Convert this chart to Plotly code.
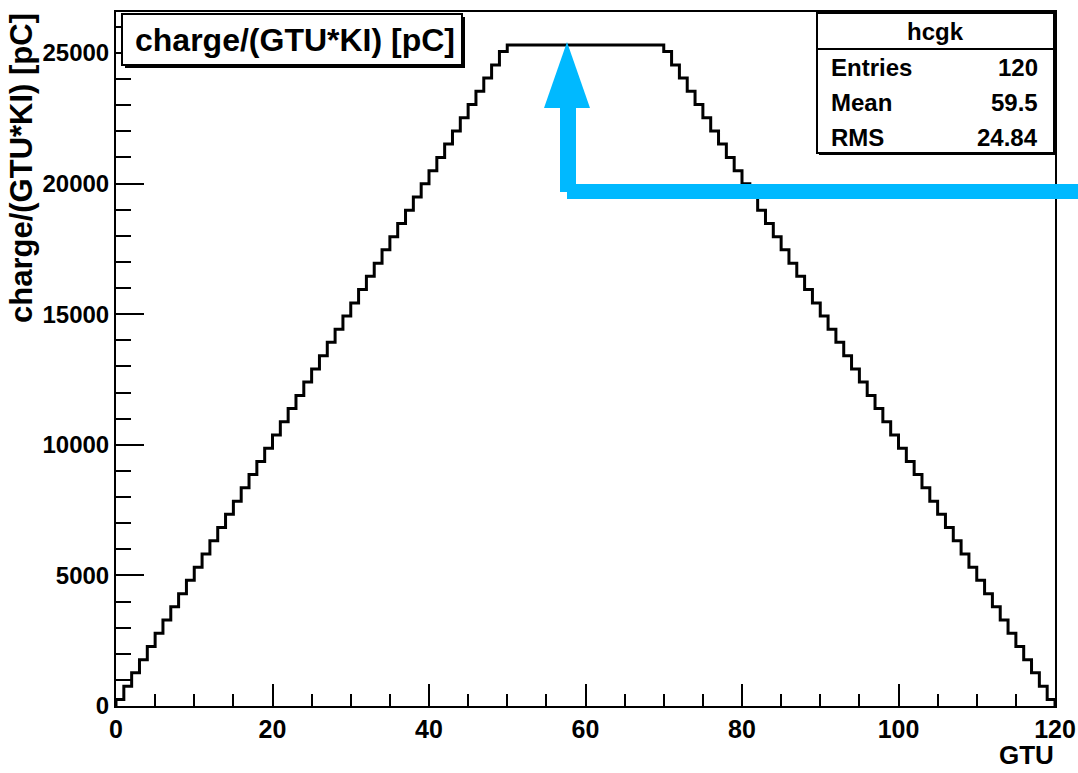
import plotly.graph_objects as go

# ---- data ----
bin_edges = list(range(0, 121))          # GTU bin edges 0..120
rise = [250, 760, 1270, 1770, 2280, 2780, 3290, 3800, 4300, 4810,
        5310, 5820, 6330, 6830, 7340, 7840, 8350, 8860, 9360, 9870,
        10370, 10880, 11390, 11890, 12400, 12900, 13410, 13920, 14420, 14930,
        15430, 15940, 16450, 16950, 17460, 17960, 18470, 18980, 19480, 19990,
        20490, 21000, 21510, 22010, 22520, 23020, 23530, 24040, 24540, 25050]
plateau = [25300] * 20
fall = [25050, 24540, 24040, 23530, 23020, 22520, 22010, 21510, 21000, 20490,
        19990, 19480, 18980, 18470, 17960, 17460, 16950, 16450, 15940, 15430,
        14930, 14420, 13920, 13410, 12900, 12400, 11890, 11390, 10880, 10370,
        9870, 9360, 8860, 8350, 7840, 7340, 6830, 6330, 5820, 5310,
        4810, 4300, 3800, 3290, 2780, 2280, 1770, 1270, 760, 250]
counts = rise + plateau + fall

x_ticks = [0, 20, 40, 60, 80, 100, 120]
x_ticklabels = ["0", "20", "40", "60", "80", "100", "120"]
y_ticks = [0, 5000, 10000, 15000, 20000, 25000]
y_ticklabels = ["0", "5000", "10000", "15000", "20000", "25000"]

hist_name = "hcgk"
stat_labels = ["Entries", "Mean", "RMS"]
stat_values = ["120", "59.5", "24.84"]
title_text = "charge/(GTU*KI) [pC]"
x_title = "GTU"
y_title = "charge/(GTU*KI) [pC]"

# ---- layout geometry (pixels) ----
W, H = 1078, 773
L, R, T, B = 116, 1055, 12, 706


def px(x):
    return (x - L) / (R - L)


def py(y):
    return (B - y) / (B - T)


FONT = "Liberation Sans, Arial, sans-serif"

xs = [bin_edges[0]] + bin_edges + [bin_edges[-1]]
ys = [0] + counts + [counts[-1], 0]

fig = go.Figure()
fig.add_trace(go.Scatter(x=xs, y=ys, mode="lines", line_shape="hv",
                         line=dict(color="black", width=3), hoverinfo="skip",
                         showlegend=False))

ymax = max(counts) * 1.05

fig.update_layout(
    width=W, height=H,
    margin=dict(l=L, r=W - R, t=T, b=H - B, autoexpand=False),
    paper_bgcolor="white", plot_bgcolor="white",
    showlegend=False,
    xaxis=dict(range=[0, 120], tickvals=x_ticks, ticktext=x_ticklabels,
               ticks="inside", ticklen=22, automargin=False,
               tickwidth=2, tickcolor="black", showline=True, linecolor="black",
               linewidth=2, mirror=True, showgrid=False, zeroline=False,
               tickfont=dict(family=FONT, size=25, color="black", weight="bold"),
               minor=dict(dtick=5, ticks="inside", ticklen=12, tickwidth=2,
                          tickcolor="black", showgrid=False)),
    yaxis=dict(range=[0, ymax], tickvals=y_ticks, ticktext=y_ticklabels,
               ticks="inside", ticklen=28, automargin=False,
               tickwidth=2, tickcolor="black", showline=True, linecolor="black",
               linewidth=2, mirror=True, showgrid=False, zeroline=False,
               tickfont=dict(family=FONT, size=24, color="black", weight="bold"),
               minor=dict(dtick=1000, ticks="inside", ticklen=15, tickwidth=2,
                          tickcolor="black", showgrid=False)),
)

shapes = []
ann = []

# title box with shadow
shapes.append(dict(type="rect", xref="paper", yref="paper",
                   x0=px(125), x1=px(465), y0=py(17), y1=py(68),
                   fillcolor="black", line=dict(width=0), layer="above"))
shapes.append(dict(type="rect", xref="paper", yref="paper",
                   x0=px(122), x1=px(462), y0=py(14), y1=py(65),
                   fillcolor="white", line=dict(color="black", width=2), layer="above"))
ann.append(dict(text=f"<b>{title_text}</b>", xref="paper", yref="paper",
                x=px(295), y=py(40), xanchor="center", yanchor="middle",
                showarrow=False, font=dict(family=FONT, size=32, color="black")))

# stats box with shadow
shapes.append(dict(type="rect", xref="paper", yref="paper",
                   x0=px(819), x1=px(1056), y0=py(15), y1=py(155),
                   fillcolor="black", line=dict(width=0), layer="above"))
shapes.append(dict(type="rect", xref="paper", yref="paper",
                   x0=px(817), x1=px(1054), y0=py(13), y1=py(153),
                   fillcolor="white", line=dict(color="black", width=2), layer="above"))
shapes.append(dict(type="line", xref="paper", yref="paper",
                   x0=px(817), x1=px(1054), y0=py(49), y1=py(49),
                   line=dict(color="black", width=2), layer="above"))
ann.append(dict(text=f"<b>{hist_name}</b>", xref="paper", yref="paper",
                x=px(935), y=py(31), xanchor="center", yanchor="middle",
                showarrow=False, font=dict(family=FONT, size=24, color="black")))
for i, (lab, val) in enumerate(zip(stat_labels, stat_values)):
    yy = py(68 + 35 * i)
    ann.append(dict(text=f"<b>{lab}</b>", xref="paper", yref="paper",
                    x=px(829), y=yy, xanchor="left", yanchor="middle",
                    showarrow=False, font=dict(family=FONT, size=24, color="black")))
    ann.append(dict(text=f"<b>{val}</b>", xref="paper", yref="paper",
                    x=px(1040), y=yy, xanchor="right", yanchor="middle",
                    showarrow=False, font=dict(family=FONT, size=24, color="black")))

# axis titles
ann.append(dict(text=f"<b>{x_title}</b>", xref="paper", yref="paper",
                x=px(1056), y=py(772), xanchor="right", yanchor="bottom",
                showarrow=False, font=dict(family=FONT, size=26, color="black")))
ann.append(dict(text=f"<b>{y_title}</b>", xref="paper", yref="paper",
                x=px(21), y=py(11), xanchor="center", yanchor="top", textangle=-90,
                showarrow=False, font=dict(family=FONT, size=31, color="black")))

# blue arrow overlay
BLUE = "#00B9FF"
shapes.append(dict(type="rect", xref="paper", yref="paper",
                   x0=px(567), x1=px(1100), y0=py(184), y1=py(199),
                   fillcolor=BLUE, line=dict(width=0), layer="above"))
shapes.append(dict(type="rect", xref="paper", yref="paper",
                   x0=px(560), x1=px(576), y0=py(106), y1=py(192),
                   fillcolor=BLUE, line=dict(width=0), layer="above"))
tri = (f"M {px(544)} {py(108)} L {px(590)} {py(108)} L {px(567)} {py(42)} Z")
shapes.append(dict(type="path", xref="paper", yref="paper", path=tri,
                   fillcolor=BLUE, line=dict(width=0), layer="above"))

fig.update_layout(shapes=shapes, annotations=ann)
fig.write_html("out.html")
